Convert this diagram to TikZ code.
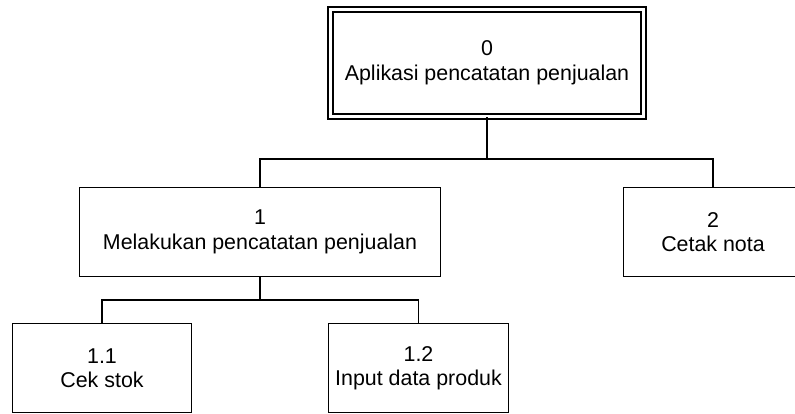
\documentclass[tikz,border=0pt]{standalone}
\usepackage{fontspec}
\setmainfont{Liberation Sans}
\begin{document}
\begin{tikzpicture}[x=1pt,y=-1pt,
  procbox/.style={draw, line width=1.6pt, align=center, inner sep=0pt,
    font=\fontsize{21.4}{24.5}\selectfont, minimum height=89pt},
  topbox/.style={procbox, double, double distance=3pt, line width=1.6pt},
  conn/.style={line width=1.6pt}]
\useasboundingbox (0,0) rectangle (795,414);
\node[topbox, minimum width=313pt, minimum height=107pt] (b0) at (487,63) {0\\Aplikasi pencatatan penjualan};
\node[procbox, minimum width=361pt] (b1) at (260,232) {1\\Melakukan pencatatan penjualan};
\node[procbox, minimum width=179pt] (b2) at (713,232) {2\\Cetak nota};
\node[procbox, minimum width=179pt] (b11) at (102,368) {1.1\\Cek stok};
\node[procbox, minimum width=180pt] (b12) at (418.5,368) {1.2\\Input data produk};
\coordinate (j0) at (487,159);
\coordinate (j1) at (260,300);
\draw[conn] (b0.south) -- (j0);
\draw[conn] (b1.north) |- (j0) -| (b2.north);
\draw[conn] (b1.south) -- (j1);
\draw[conn] (b11.north) |- (j1) -| (b12.north);
\end{tikzpicture}
\end{document}
